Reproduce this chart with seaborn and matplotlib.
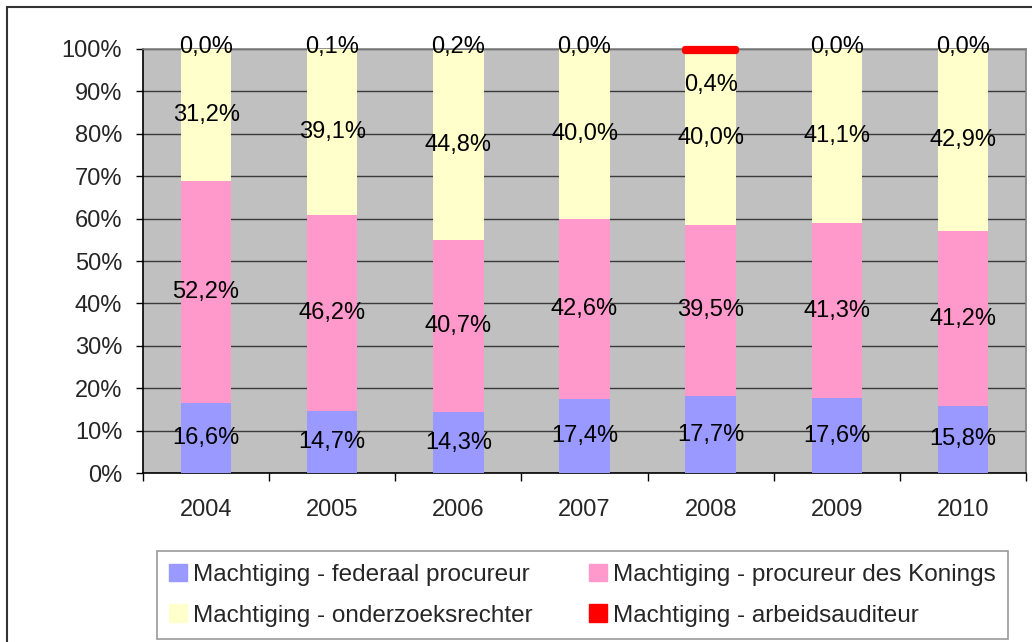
import matplotlib
matplotlib.use("Agg")
import matplotlib.pyplot as plt
import matplotlib.patches as mpatches
from matplotlib.ticker import FixedLocator, PercentFormatter
import seaborn as sns
import numpy as np

# data (percentages as printed on the chart)
years = ["2004", "2005", "2006", "2007", "2008", "2009", "2010"]
federaal = [16.6, 14.7, 14.3, 17.4, 17.7, 17.6, 15.8]
konings = [52.2, 46.2, 40.7, 42.6, 39.5, 41.3, 41.2]
onderzoek = [31.2, 39.1, 44.8, 40.0, 40.0, 41.1, 42.9]
arbeid = [0.0, 0.1, 0.2, 0.0, 0.4, 0.0, 0.0]

names = ["Machtiging - federaal procureur",
         "Machtiging - procureur des Konings",
         "Machtiging - onderzoeksrechter",
         "Machtiging - arbeidsauditeur"]
colors = ["#9999FF", "#FF99CC", "#FFFFCC", "#FF0000"]

sns.set_theme(style="white")
plt.rcParams["font.family"] = ["Liberation Sans", "DejaVu Sans"]

fig = plt.figure(figsize=(10.32, 6.42), dpi=100)
ax = fig.add_axes([0.1386, 0.2632, 0.8556, 0.6605])
ax.set_facecolor("#C0C0C0")

series = [federaal, konings, onderzoek, arbeid]
raw = np.array(series)
share = raw / raw.sum(axis=0) * 100  # 100% stacked

bottom = np.zeros(len(years))
for i, (vals, col) in enumerate(zip(share, colors)):
    if i == 3:
        sns.barplot(x=years, y=vals, bottom=bottom, color=col, width=0.40,
                    edgecolor=col, linewidth=4.5, joinstyle="round",
                    saturation=1, ax=ax, zorder=4)
        # only the 2008 slice shows up as a visible red cap
        for p, v in zip(ax.containers[-1], raw[i]):
            p.set_clip_on(False)
            if v < 0.3:
                p.set_visible(False)
    else:
        sns.barplot(x=years, y=vals, bottom=bottom, color=col, width=0.40,
                    linewidth=0, saturation=1, ax=ax, zorder=3)
    for j, (b, h, v) in enumerate(zip(bottom, vals, raw[i])):
        y = b + h / 2
        if i == 3:
            y = 100.4
            if v > 0.3:  # this label sits lower in the original
                y = 91.5
        ax.text(j, y, f"{v:.1f}%".replace(".", ","), ha="center",
                va="center", fontsize=17, color="black", zorder=5)
    bottom = bottom + vals

ax.set_xlim(-0.5, len(years) - 0.5)
ax.set_ylim(0, 100)
ax.yaxis.set_major_locator(FixedLocator(np.arange(0, 101, 10)))
ax.yaxis.set_major_formatter(PercentFormatter(decimals=0))
ax.set_axisbelow(True)
ax.grid(axis="y", color="#3a3a3a", linewidth=1.0, zorder=0)
ax.grid(axis="x", visible=False)

ax.tick_params(axis="y", direction="out", length=5, width=1, color="black",
               pad=10, labelsize=17, left=True)
ax.xaxis.set_minor_locator(FixedLocator(np.arange(-0.5, len(years), 1)))
ax.tick_params(axis="x", which="major", length=0, pad=19, labelsize=17)
ax.tick_params(axis="x", which="minor", direction="out", length=6, width=1,
               color="black", bottom=True)
ax.set_xlabel("")
ax.set_ylabel("")

for side in ["left", "bottom"]:
    ax.spines[side].set_color("black")
    ax.spines[side].set_linewidth(1.2)
for side in ["top", "right"]:
    ax.spines[side].set_visible(True)
    ax.spines[side].set_color("#808080")
    ax.spines[side].set_linewidth(1.2)

# legend, filled column-wise so the rows read as in the original
handles = [mpatches.Patch(color=c) for c in colors]
order = [0, 2, 1, 3]
leg = fig.legend([handles[k] for k in order], [names[k] for k in order],
                 ncol=2, loc="lower left",
                 bbox_to_anchor=(0.152, 0.005, 0.825, 0.13),
                 mode="expand", fontsize=17.5, frameon=True, fancybox=False,
                 edgecolor="#808080", handlelength=0.75, handleheight=0.75,
                 handletextpad=0.25, labelspacing=0.75, borderaxespad=0,
                 borderpad=0.5)
leg.get_frame().set_linewidth(1.2)

# outer chart border
fig.patches.append(mpatches.Rectangle((0.007, -0.1), 1.2, 1.089,
                                      transform=fig.transFigure, fill=False,
                                      edgecolor="#333333", linewidth=1.5))

fig.savefig("out.png", dpi=100)
